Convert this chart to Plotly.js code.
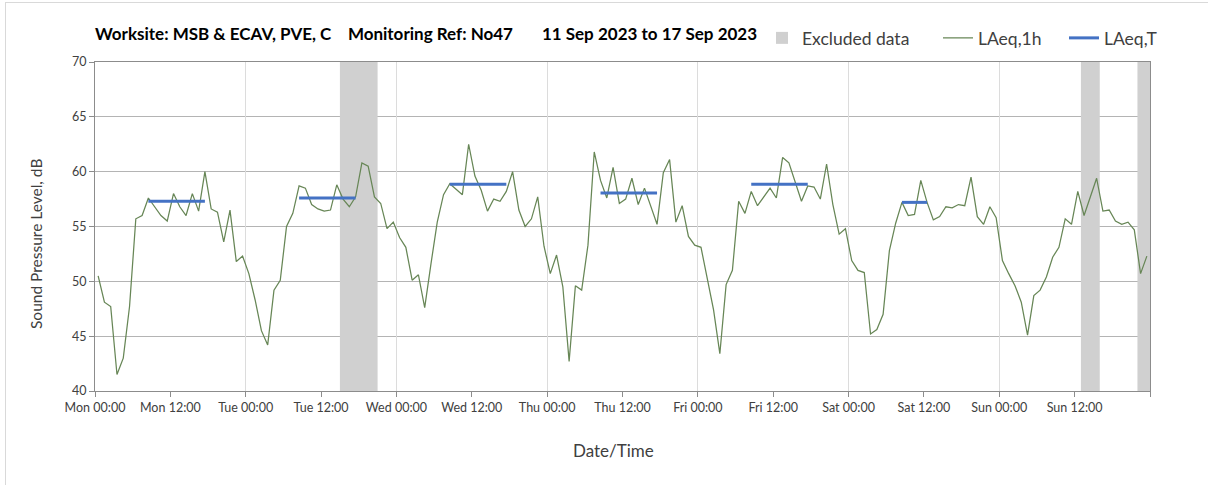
<!DOCTYPE html>
<html>
<head>
<meta charset="utf-8">
<script src="https://cdn.plot.ly/plotly-3.0.1.min.js"></script>
<style>
  html, body { margin: 0; padding: 0; background: #ffffff; overflow: hidden; }
  #chart { position: absolute; left: 0; top: 0; width: 1208px; height: 485px; }
  #frame { position: absolute; left: 5px; top: 2px; width: 1400px; height: 700px;
           border: 1px solid #d9d9d9; pointer-events: none; }
</style>
</head>
<body>
<div id="chart"></div>
<div id="frame"></div>
<script>
// ---- Data ----
const days = ['Mon', 'Tue', 'Wed', 'Thu', 'Fri', 'Sat', 'Sun'];

// Hourly LAeq,1h values, one per hour from Mon 00:00 to Sun 23:00
const laeq1h = [
  // Mon
  50.5, 48.1, 47.7, 41.5, 43.0, 47.7, 55.7, 56.0, 57.6, 56.8, 56.0, 55.5,
  58.0, 56.8, 56.0, 58.0, 56.4, 60.0, 56.6, 56.3, 53.6, 56.5, 51.8, 52.3,
  // Tue
  50.7, 48.3, 45.5, 44.2, 49.2, 50.1, 55.0, 56.2, 58.7, 58.5, 57.0, 56.6,
  56.4, 56.5, 58.8, 57.5, 56.8, 57.7, 60.8, 60.5, 57.7, 57.1, 54.8, 55.4,
  // Wed
  54.0, 53.1, 50.1, 50.6, 47.6, 51.6, 55.4, 57.9, 58.9, 58.4, 57.9, 62.5,
  59.6, 58.3, 56.4, 57.5, 57.3, 58.2, 60.0, 56.5, 55.0, 55.7, 57.7, 53.2,
  // Thu
  50.7, 52.4, 49.5, 42.7, 49.6, 49.2, 53.3, 61.8, 59.2, 57.6, 60.4, 57.1,
  57.5, 59.4, 57.0, 58.5, 56.8, 55.2, 59.9, 61.1, 55.4, 56.9, 54.1, 53.3,
  // Fri
  53.1, 50.1, 47.4, 43.4, 49.7, 51.0, 57.3, 56.2, 58.2, 56.9, 57.7, 58.5,
  57.6, 61.3, 60.8, 59.0, 57.3, 58.7, 58.6, 57.5, 60.7, 57.0, 54.3, 54.8,
  // Sat
  51.9, 51.0, 50.8, 45.2, 45.6, 47.0, 52.8, 55.3, 57.2, 56.0, 56.1, 59.2,
  57.2, 55.6, 55.9, 56.8, 56.7, 57.0, 56.9, 59.5, 55.9, 55.2, 56.8, 55.8,
  // Sun
  51.9, 50.7, 49.6, 48.1, 45.1, 48.7, 49.2, 50.4, 52.2, 53.1, 55.7, 55.2,
  58.2, 56.0, 57.7, 59.4, 56.4, 56.5, 55.5, 55.2, 55.4, 54.7, 50.7, 52.3
];

// LAeq,T daytime periods (first and last hourly period, in hours since Mon 00:00)
const laeqTFirstHour = [8, 32, 56, 80, 104, 128];
const laeqTLastHour  = [17, 41, 65, 89, 113, 132];
const laeqTValue     = [57.3, 57.6, 58.85, 58.05, 58.85, 57.2];

// Excluded data periods (hours since Mon 00:00)
const excludedStart = [39, 157, 166];
const excludedEnd   = [45, 160, 168];

// Text
const titleParts = ['Worksite: MSB & ECAV, PVE, C', 'Monitoring Ref: No47', '11 Sep 2023 to 17 Sep 2023'];
const xTitle = 'Date/Time';
const yTitle = 'Sound Pressure Level, dB';

// ---- Build traces ----
const hoursInWeek = days.length * 24;
const yRange = [40, 70];

const hourX = laeq1h.map((_, i) => i + 0.5);

const tX = [], tY = [];
laeqTValue.forEach((v, k) => {
  tX.push(laeqTFirstHour[k] + 0.5, laeqTLastHour[k] + 0.5, null);
  tY.push(v, v, null);
});

const excluded = {
  type: 'bar',
  name: 'Excluded data',
  legend: 'legend',
  x: excludedStart.map((s, k) => (s + excludedEnd[k]) / 2),
  width: excludedStart.map((s, k) => excludedEnd[k] - s),
  base: excludedStart.map(() => yRange[0]),
  y: excludedStart.map(() => yRange[1] - yRange[0]),
  marker: { color: '#d0d0d0', line: { width: 0 } },
  hoverinfo: 'skip'
};

const hourly = {
  type: 'scatter', mode: 'lines', name: 'LAeq,1h',
  legend: 'legend2',
  x: hourX, y: laeq1h,
  line: { color: '#678656', width: 1.25 }
};

const period = {
  type: 'scatter', mode: 'lines', name: 'LAeq,T',
  legend: 'legend3',
  xaxis: 'x2',
  x: tX, y: tY, connectgaps: false,
  line: { color: '#4472c4', width: 3 }
};

// ticks every 12 h, labelled; gridlines at midnight only (overlay axis)
const tickVals = [], tickText = [];
days.forEach((d, k) => {
  tickVals.push(k * 24, k * 24 + 12);
  tickText.push(d + ' 00:00', d + ' 12:00');
});
tickVals.push(hoursInWeek); tickText.push('');
const midnightVals = days.map((d, k) => k * 24);

const font = 'Lato, "Open Sans", sans-serif';
const NB = '\u00a0';

// pixel helpers for placing text around the plot area (layout only)
const W = 1208, H = 485, L = 95, R = 58, T = 62, B = 94;
const pw = W - L - R, ph = H - T - B;
const px = v => (v - L) / pw;
const py = v => 1 - (v - T) / ph;

function legendAt(xPix) {
  return {
    orientation: 'h', x: px(xPix), xanchor: 'left', y: py(38), yanchor: 'middle',
    font: { family: font, size: 17.5, color: '#404040' },
    bgcolor: 'rgba(0,0,0,0)', borderwidth: 0
  };
}

const layout = {
  width: W, height: H,
  margin: { l: L, r: R, t: T, b: B, pad: 0 },
  paper_bgcolor: 'rgba(0,0,0,0)',
  plot_bgcolor: '#ffffff',
  font: { family: font, color: '#404040', size: 12 },
  title: {
    text: titleParts[0] + NB.repeat(4) + titleParts[1] + NB.repeat(7) + titleParts[2],
    font: { family: font, size: 17, color: '#000000', weight: 'bold' },
    x: L / W, xanchor: 'left', xref: 'container',
    y: 1 - 34 / H, yanchor: 'middle', yref: 'container'
  },
  showlegend: true,
  legend: legendAt(762),
  legend2: legendAt(938),
  legend3: legendAt(1064),
  barmode: 'overlay',
  xaxis: {
    range: [0, hoursInWeek], tickmode: 'array', tickvals: tickVals, ticktext: tickText,
    ticks: 'outside', ticklen: 5, tickcolor: '#8c8c8c', tickwidth: 1,
    showgrid: false, zeroline: false,
    showline: true, linecolor: '#8c8c8c', linewidth: 1, mirror: true,
    tickfont: { family: font, size: 12.5, color: '#404040' },
    fixedrange: true
  },
  xaxis2: {
    overlaying: 'x', matches: 'x', anchor: 'y', range: [0, hoursInWeek],
    tickmode: 'array', tickvals: midnightVals, showticklabels: false, ticks: '',
    showgrid: true, gridcolor: '#dcdcdc', gridwidth: 1, zeroline: false, showline: false
  },
  yaxis: {
    range: yRange, dtick: 5, tick0: 40,
    ticks: 'outside', ticklen: 5, tickcolor: '#8c8c8c',
    showgrid: true, gridcolor: '#b4b4b4', gridwidth: 1, zeroline: false,
    showline: true, linecolor: '#8c8c8c', linewidth: 1, mirror: true,
    tickfont: { family: font, size: 12.5, color: '#404040' },
    fixedrange: true
  },
  annotations: [
    { text: xTitle, xref: 'paper', yref: 'paper', x: px(613), y: py(450),
      xanchor: 'center', yanchor: 'middle', showarrow: false,
      font: { family: font, size: 17, color: '#404040' } },
    { text: yTitle, xref: 'paper', yref: 'paper', x: px(36), y: py(244), textangle: -90,
      xanchor: 'center', yanchor: 'middle', showarrow: false,
      font: { family: font, size: 15.5, color: '#404040' } }
  ]
};

Plotly.newPlot('chart', [excluded, hourly, period], layout, { staticPlot: true, displayModeBar: false });
</script>
</body>
</html>
